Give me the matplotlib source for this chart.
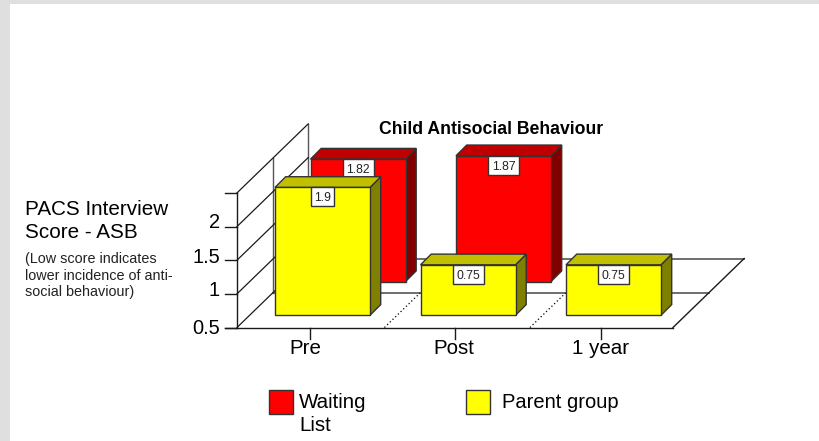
import matplotlib
matplotlib.use('Agg')
from matplotlib import pyplot as plt
from matplotlib.patches import Polygon, Rectangle

plt.rcParams['font.family'] = ['Liberation Sans', 'DejaVu Sans']

categories = ['Pre', 'Post', '1 year']
waiting_list = [1.82, 1.87]
parent_group = [1.9, 0.75, 0.75]
tick_values = [0, 0.5, 1, 1.5, 2]
tick_labels = ['0.5', '1', '1.5', '2', '']

W, H = 819, 441
PX_X = 145.5   # pixels per category
PX_Y = 67.3    # pixels per score unit
X0, Y0 = 309.7, 327.5   # pixel of category 0 / score 0

fig = plt.figure(figsize=(W / 100, H / 100), dpi=100, facecolor='white')
ax = fig.add_axes([0, 0, 1, 1])
ax.set_xlim(-X0 / PX_X, (W - X0) / PX_X)
ax.set_ylim((Y0 - H) / PX_Y, Y0 / PX_Y)
ax.axis('off')


def dx(px):
    return px / PX_X


def dy(px):
    return px / PX_Y


def figpos(x, y):
    return x / W, 1 - y / H


# grey page border
fig.patches.append(Rectangle((0, 0), 10 / W, 1, transform=fig.transFigure, fc='#dfdfdf', ec='none'))
fig.patches.append(Rectangle((0, 1 - 4 / H), 1, 4 / H, transform=fig.transFigure, fc='#dfdfdf', ec='none'))

# floor and walls
left = dx(237 - X0)
right = dx(673 - X0)
depth_x, depth_y = dx(35.6), dy(34.5)
top = tick_values[-1]
dark = '#1a1a1a'
grey = '#555555'

ax.plot([dx(225 - X0), right], [0, 0], color=dark, lw=1)
ax.plot([right, right + 2 * depth_x], [0, 2 * depth_y], color=dark, lw=1)
ax.plot([left + 2 * depth_x, right + 2 * depth_x], [2 * depth_y, 2 * depth_y], color=grey, lw=1.2, zorder=1)
ax.plot([left + depth_x, right + depth_x], [depth_y, depth_y], color=grey, lw=1.2, zorder=1)
ax.plot([left, left], [0, top], color=dark, lw=1)
ax.plot([left + depth_x, left + depth_x], [depth_y, top + depth_y], color=grey, lw=1)
ax.plot([left + 2 * depth_x, left + 2 * depth_x], [2 * depth_y, top + 2 * depth_y], color=grey, lw=1)
for v in tick_values:
    ax.plot([left, left + 2 * depth_x], [v, v + 2 * depth_y], color=dark, lw=0.9)
    ax.plot([dx(225 - X0), left], [v, v], color=dark, lw=1)
for v, lab, off in zip(tick_values, tick_labels, [-1.5, 3, 3, 4.5]):
    ax.text(dx(220 - X0), v + dy(off), lab, ha='right', va='center', fontsize=14.4, color='black')

# dotted category separators on the floor
for i in range(2):
    sx = i + 0.5 + dx(2)
    ax.plot([sx, sx + depth_x], [0, depth_y], color='black', lw=0.9, ls=(0, (1, 2)), zorder=1)

# category ticks
for i, (lab, off) in enumerate(zip(categories, [-4, -1, 0])):
    ax.plot([i, i], [0, dy(-11)], color=dark, lw=1)
    ax.text(i + dx(off), dy(-27), lab, ha='center', va='baseline', fontsize=14.8, color='black')


def bar3d(cat, value, base_y, shift_x, front, top_c, side, z):
    w = dx(95)
    d = dx(10.7)
    h = dy(10.7)
    x0 = cat + shift_x - w / 2
    y0 = base_y
    y1 = base_y + value
    ec = '#333333'
    ax.add_patch(Polygon([(x0 + w, y0), (x0 + w + d, y0 + h), (x0 + w + d, y1 + h), (x0 + w, y1)],
                         fc=side, ec=ec, lw=1, zorder=z))
    ax.add_patch(Polygon([(x0, y1), (x0 + d, y1 + h), (x0 + w + d, y1 + h), (x0 + w, y1)],
                         fc=top_c, ec=ec, lw=1, zorder=z))
    ax.add_patch(Rectangle((x0, y0), w, value, fc=front, ec=ec, lw=1, zorder=z))
    # value box hangs from the top edge of the bar
    label = str(value)
    bw = dx(8 * len(label) - 1)
    bh = dy(19)
    cx = cat + shift_x
    ax.add_patch(Rectangle((cx - bw / 2, y1 - bh), bw, bh, fc='white', ec='#333333', lw=1, zorder=z + 0.4))
    ax.text(cx, y1 - bh / 2 - dy(4.4), label, ha='center', va='baseline', fontsize=8.8, color='#222222',
            zorder=z + 0.5)


for i, v in enumerate(waiting_list):
    bar3d(i, v, dy(45.9), dx(48.3), '#ff0000', '#c00000', '#800000', 3)
for i, v in enumerate(parent_group):
    bar3d(i, v, dy(12.2), dx(12.8), '#ffff00', '#c0c000', '#808000', 5)

# title and left notes
ax.text(dx(491 - X0), dy(Y0 - 134), 'Child Antisocial Behaviour', ha='center', va='baseline',
        fontsize=12.7, fontweight='bold', color='black')
for txt, y in [('PACS Interview', 215), ('Score - ASB', 238)]:
    fig.text(*figpos(25, y), txt, fontsize=14.9, color='black', va='baseline')
for txt, y in [('(Low score indicates', 263), ('lower incidence of anti-', 280), ('social behaviour)', 296)]:
    fig.text(*figpos(25, y), txt, fontsize=10.35, color='#222222', va='baseline')

# legend
for x, c in [(269, '#ff0000'), (466, '#ffff00')]:
    fig.patches.append(Rectangle(figpos(x, 413.5), 24 / W, 23.5 / H, transform=fig.transFigure,
                                 fc=c, ec='#333333', lw=1))
fig.text(*figpos(299, 408), 'Waiting', fontsize=14.8, color='black', va='baseline')
fig.text(*figpos(299, 431), 'List', fontsize=14.8, color='black', va='baseline')
fig.text(*figpos(501.5, 408), 'Parent group', fontsize=14.5, color='black', va='baseline')

fig.savefig('out.png', dpi=100)
